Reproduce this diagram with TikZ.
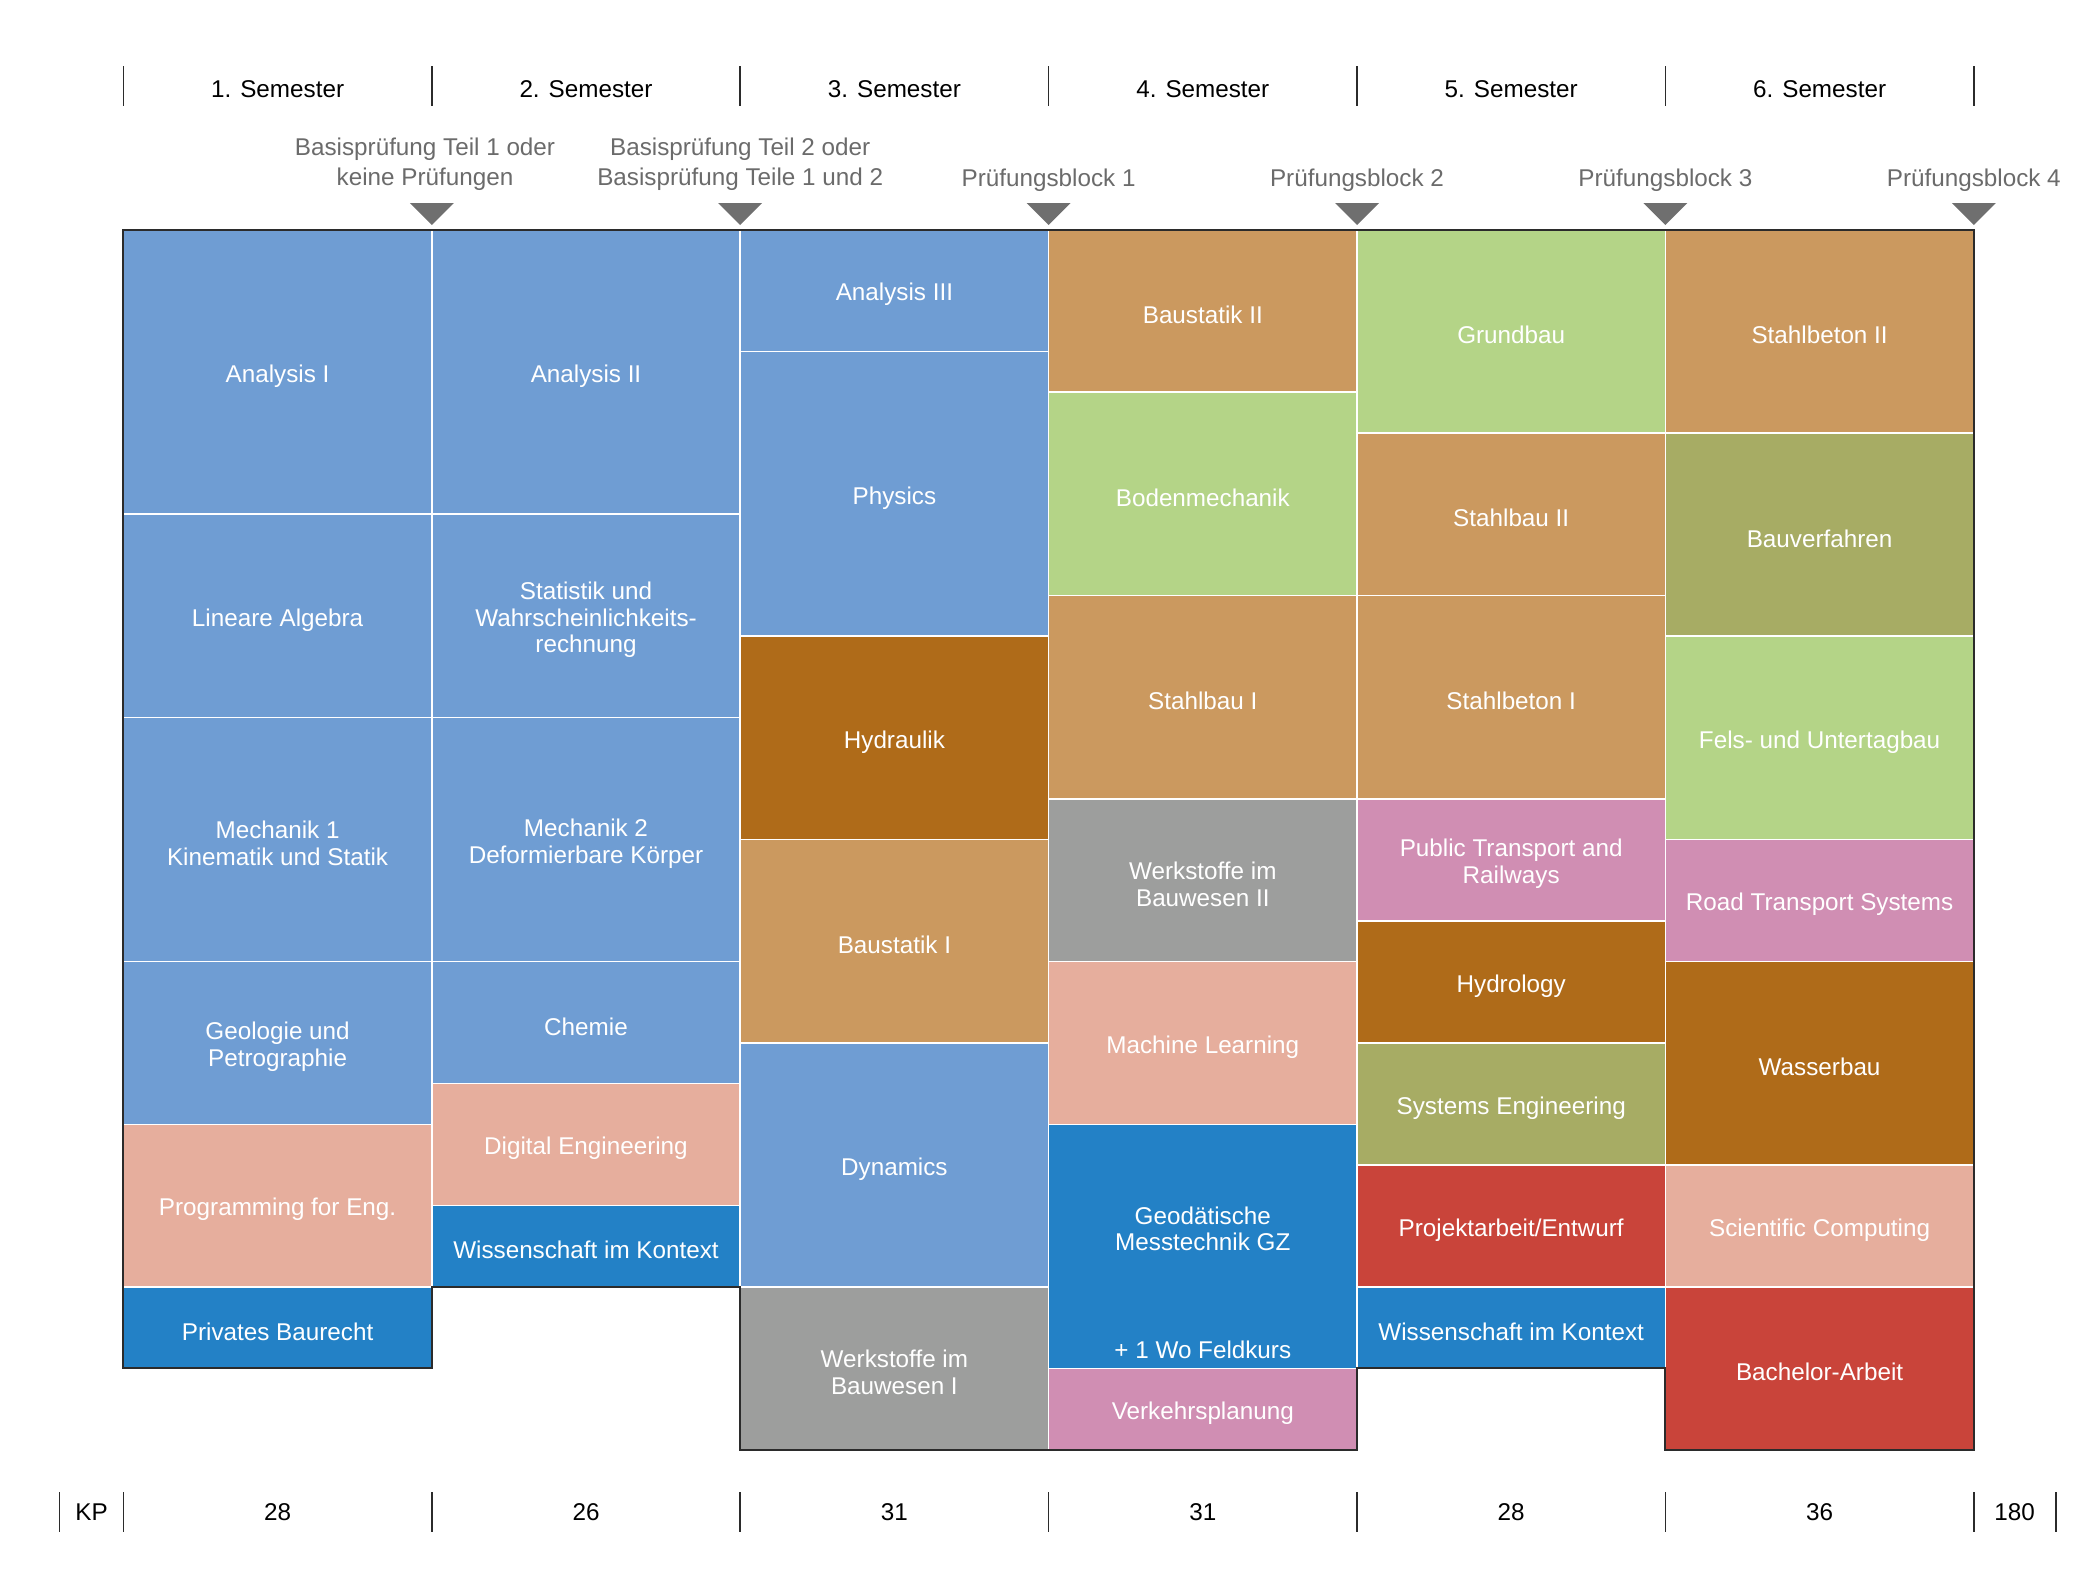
\documentclass[tikz,border=0pt]{standalone}
\usepackage{fontspec}
\setmainfont{Liberation Sans}
\definecolor{mblue}{HTML}{6F9DD3}
\definecolor{dblue}{HTML}{2381C6}
\definecolor{salmon}{HTML}{E6AE9D}
\definecolor{tan}{HTML}{CB995F}
\definecolor{brown}{HTML}{AF6B19}
\definecolor{lgreen}{HTML}{B4D487}
\definecolor{olive}{HTML}{A7AC64}
\definecolor{wgray}{HTML}{9D9E9D}
\definecolor{pink}{HTML}{D08EB3}
\definecolor{cred}{HTML}{C9443A}
\definecolor{trigray}{HTML}{6F6F6F}
\definecolor{labgray}{HTML}{6B6B6B}
\definecolor{edge}{HTML}{2B2B2B}
\begin{document}
\begin{tikzpicture}[x=0.4pt,y=-0.4pt,
  every node/.style={inner sep=0pt,outer sep=0pt},
  txt/.style={font=\fontsize{9.7}{10.6}\selectfont},
  cell/.style={draw=white,line width=0.6pt,minimum width=123.36pt},
  celltext/.style={txt,text=white,align=center},
  head/.style={txt,text=black},
  exam/.style={font=\fontsize{9.7}{12.2}\selectfont,text=labgray,align=center},
  tickline/.style={draw=edge,line width=0.6pt},
  outline/.style={draw=edge,line width=0.8pt,line join=miter},
  tri/.style={fill=trigray}]
\useasboundingbox (0,0) rectangle (2080,1586);

% cells
\foreach \c/\s/\n/\col/\lab [count=\k] in {
  0/0/7/mblue/{Analysis I},
  0/7/5/mblue/{Lineare Algebra},
  0/12/6/mblue/{Mechanik 1\\Kinematik und Statik},
  0/18/4/mblue/{Geologie und\\Petrographie},
  0/22/4/salmon/{Programming for Eng.},
  0/26/2/dblue/{Privates Baurecht},
  1/0/7/mblue/{Analysis II},
  1/7/5/mblue/{Statistik und\\Wahrscheinlichkeits-\\rechnung},
  1/12/6/mblue/{Mechanik 2\\Deformierbare Körper},
  1/18/3/mblue/{Chemie},
  1/21/3/salmon/{Digital Engineering},
  1/24/2/dblue/{Wissenschaft im Kontext},
  2/0/3/mblue/{Analysis III},
  2/3/7/mblue/{Physics},
  2/10/5/brown/{Hydraulik},
  2/15/5/tan/{Baustatik I},
  2/20/6/mblue/{Dynamics},
  2/26/4/wgray/{Werkstoffe im\\Bauwesen I},
  3/0/4/tan/{Baustatik II},
  3/4/5/lgreen/{Bodenmechanik},
  3/9/5/tan/{Stahlbau I},
  3/14/4/wgray/{Werkstoffe im\\Bauwesen II},
  3/18/4/salmon/{Machine Learning},
  3/22/6/dblue/{},
  3/28/2/pink/{Verkehrsplanung},
  4/0/5/lgreen/{Grundbau},
  4/5/4/tan/{Stahlbau II},
  4/9/5/tan/{Stahlbeton I},
  4/14/3/pink/{Public Transport and\\Railways},
  4/17/3/brown/{Hydrology},
  4/20/3/olive/{Systems Engineering},
  4/23/3/cred/{Projektarbeit/Entwurf},
  4/26/2/dblue/{Wissenschaft im Kontext},
  5/0/5/tan/{Stahlbeton II},
  5/5/5/olive/{Bauverfahren},
  5/10/5/lgreen/{Fels- und Untertagbau},
  5/15/3/pink/{Road Transport Systems},
  5/18/5/brown/{Wasserbau},
  5/23/3/salmon/{Scientific Computing},
  5/26/4/cred/{Bachelor-Arbeit}} {
  \pgfmathsetmacro{\xx}{123.4+308.4*(\c+0.5)}
  \pgfmathsetmacro{\yy}{229.5+40.67*(\s+\n/2)}
  \node[cell,fill=\col,minimum height=\n*16.268pt] (cell\k) at (\xx,\yy) {};
  \node[celltext] (lab\k) at (\xx,\yy+4) {\lab};
}
\node[celltext] (geo) at (1202.8,1229) {Geodätische\\Messtechnik GZ};
\node[celltext] (feld) at (1202.8,1350) {+ 1 Wo Feldkurs};

% outline
\draw[outline] (123.4,229.5) -- (1973.8,229.5) -- (1973.8,1449.6) -- (1665.4,1449.6)
  -- (1665.4,1368.3) -- (1357.0,1368.3) -- (1357.0,1449.6) -- (740.2,1449.6)
  -- (740.2,1286.9) -- (431.8,1286.9) -- (431.8,1368.3) -- (123.4,1368.3) -- cycle;

% header ticks and semester labels
\foreach \i in {0,...,6} {
  \pgfmathsetmacro{\xx}{123.4+308.4*\i}
  \draw[tickline] (\xx,66) -- (\xx,106);
}
\foreach \i in {1,...,6} {
  \pgfmathsetmacro{\xx}{123.4+308.4*(\i-0.5)}
  \node[head] (sem\i) at (\xx,89) {\i. Semester};
}

% exam triangles
\foreach \i in {1,...,6} {
  \pgfmathsetmacro{\xx}{123.4+308.4*\i}
  \fill[tri] (\xx-22,203) -- (\xx+22,203) -- (\xx,225) -- cycle;
}
\node[exam] (ex1) at (425,164) {Basisprüfung Teil 1 oder\\keine Prüfungen};
\node[exam] (ex2) at (740.2,164) {Basisprüfung Teil 2 oder\\Basisprüfung Teile 1 und 2};
\node[exam] (ex3) at (1048.6,180.5) {Prüfungsblock 1};
\node[exam] (ex4) at (1357.0,180.5) {Prüfungsblock 2};
\node[exam] (ex5) at (1665.4,180.5) {Prüfungsblock 3};
\node[exam] (ex6) at (1973.8,180.5) {Prüfungsblock 4};

% bottom row
\foreach \xx in {59.7,123.4,431.8,740.2,1048.6,1357.0,1665.4,1973.8,2056} {
  \draw[tickline] (\xx,1492) -- (\xx,1532);
}
\node[head] (kp) at (91.5,1512) {KP};
\foreach \v [count=\i] in {28,26,31,31,28,36} {
  \pgfmathsetmacro{\xx}{123.4+308.4*(\i-0.5)}
  \node[head] (kp\i) at (\xx,1512) {\v};
}
\node[head] (total) at (2014.5,1512) {180};
\end{tikzpicture}
\end{document}
